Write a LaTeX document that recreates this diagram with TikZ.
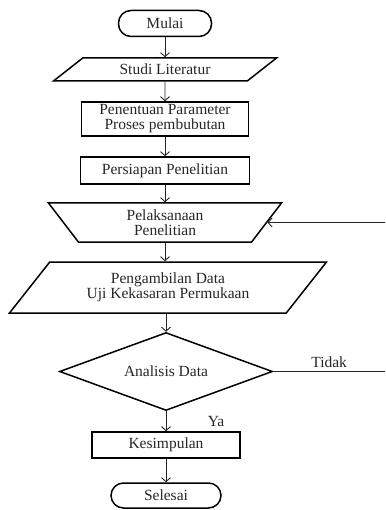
\documentclass[tikz,border=0pt]{standalone}
\usepackage{fontspec}
\setmainfont{Liberation Serif}
\usepackage{xcolor}
\usepackage{tikz}
\usetikzlibrary{shapes.geometric,arrows.meta}
\tikzstyle{terminal} = [draw, rectangle, rounded corners=12.5pt, line width=1.5pt,
minimum height=26pt]
\tikzstyle{process} = [draw, rectangle, line width=1.5pt, align=center, inner sep=2pt]
\tikzstyle{data} = [draw, trapezium, trapezium stretches body=true, line width=1.5pt,
align=center, inner sep=2pt]
\tikzstyle{manual} = [draw, trapezium, trapezium angle=45, shape border rotate=180,
trapezium stretches body=true, line width=1.5pt, align=center, inner sep=2pt]
\tikzstyle{decision} = [draw, diamond, aspect=2.7, line width=1.5pt, inner sep=1pt]
\tikzstyle{line} = [draw, black!85, line width=0.9pt, -{Straight Barb[length=4pt,width=9pt]}]

\begin{document}
\begin{tikzpicture}[x=1pt, y=-1pt, font=\fontsize{15.5}{15}\selectfont\color{black!85}]
	\useasboundingbox (0,0) rectangle (385,510);
	% We start by placing the blocks
	\node [terminal, minimum width=93pt] (mulai) at (165,23.5) {Mulai};
	\node [data, trapezium left angle=27, trapezium right angle=153,
	minimum width=223pt, minimum height=23pt, below of=mulai, node distance=46pt] (studi) {Studi Literatur};
	\node [process, minimum width=167pt, minimum height=34pt,
	below of=studi, node distance=49.5pt] (parameter) {Penentuan Parameter\\Proses pembubutan};
	\node [process, minimum width=169pt, minimum height=27pt,
	below of=parameter, node distance=51.5pt] (persiapan) {Persiapan Penelitian};
	\node [manual, minimum width=233pt, minimum height=39pt,
	below of=persiapan, node distance=52pt] (pelaksanaan) {Pelaksanaan\\Penelitian};
	\node [data, trapezium left angle=39.4, trapezium right angle=140.6,
	minimum width=317pt, minimum height=51pt, below of=pelaksanaan, node distance=65pt,
	xshift=3pt] (pengambilan) {Pengambilan Data\\Uji Kekasaran Permukaan};
	\node [decision, minimum width=213pt, minimum height=78pt,
	below of=pengambilan, node distance=84pt, xshift=-2pt] (analisis) {Analisis Data};
	\node [process, minimum width=148pt, minimum height=26pt,
	below of=analisis, node distance=73.5pt] (kesimpulan) {Kesimpulan};
	\node [terminal, minimum width=110pt, minimum height=25pt,
	below of=kesimpulan, node distance=50.5pt] (selesai) {Selesai};
	% Free ends of the loop at the right border
	\coordinate (rand) at (385,0);
	\coordinate (tidak) at (analisis.east -| rand);
	\coordinate (kembali) at (pelaksanaan.east -| rand);

	% Once the nodes are placed, connecting them is easy.
	\draw [line] (mulai) -- (studi);
	\draw [line] (studi) -- (parameter);
	\draw [line] (parameter) -- (persiapan);
	\draw [line] (persiapan) -- (pelaksanaan);
	\draw [line] (pelaksanaan.south) -- (pelaksanaan.south |- pengambilan.north);
	\draw [line] (pengambilan.south -| analisis.north) -- (analisis);
	\draw [line] (analisis) -- node [right=38pt] {Ya} (kesimpulan);
	\draw [line] (kesimpulan) -- (selesai);
	\draw [line, -] (analisis.east) -- node [above] {Tidak} (tidak);
	\draw [line] (kembali) -- (pelaksanaan);
\end{tikzpicture}
\end{document}
